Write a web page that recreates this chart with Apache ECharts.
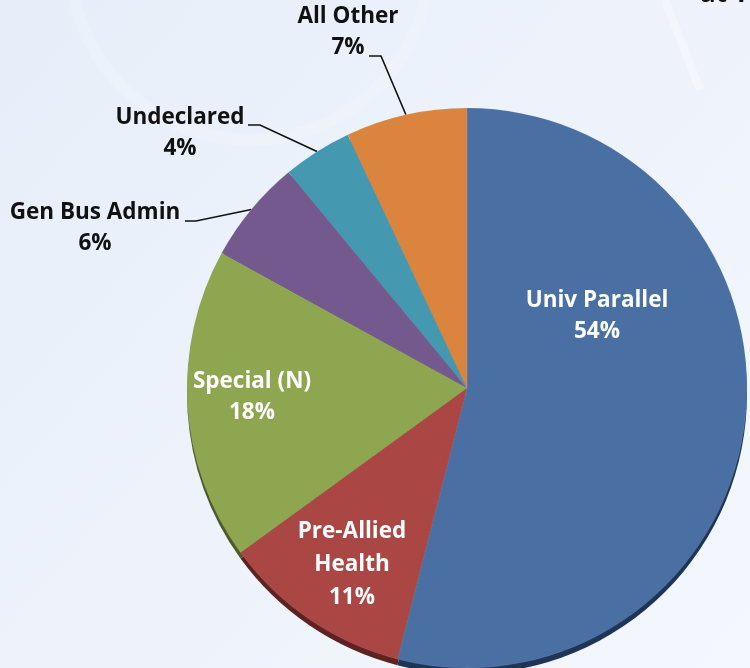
<!DOCTYPE html>
<html>
<head>
<meta charset="utf-8">
<title>Majors</title>
<script src="https://cdn.jsdelivr.net/npm/echarts@6/dist/echarts.min.js"></script>
<style>
  html, body { margin: 0; padding: 0; }
  #chart { width: 750px; height: 668px; }
</style>
</head>
<body>
<div id="chart"></div>
<script>
// 数据
const categories = ['Univ Parallel', 'Pre-Allied\nHealth', 'Special (N)', 'Gen Bus Admin', 'Undeclared', 'All Other'];
const shares = [54, 11, 18, 6, 4, 7];
const colors = ['#4a70a3', '#aa4744', '#8ea650', '#74598f', '#4499b0', '#db843d'];
const rimColors = ['#1f3557', '#5e2321', '#4d5c2a', '#3e2f4e', '#23525f', '#7a4620'];

// 标签位置（中心点），外部标签的引线拐点
const labelPos = [[597, 316], [352, 565], [252, 397], [95, 228], [180, 133], [348, 32]];
const lineEnds = [null, null, null, [[196, 221], [185, 221]], [[260, 125], [248, 125]], [[381, 56], [369, 56]]];
const inside = [true, true, true, false, false, false];

const chart = echarts.init(document.getElementById('chart'));

chart.setOption({
  backgroundColor: {
    type: 'linear', x: 0, y: 0, x2: 1, y2: 1,
    colorStops: [{ offset: 0, color: '#e7eef9' }, { offset: 1, color: '#f4f7fd' }]
  },
  graphic: [
    { type: 'circle', shape: { cx: 250, cy: -40, r: 180 }, style: { fill: 'none', stroke: 'rgba(255,255,255,0.15)', lineWidth: 12 }, silent: true },
    { type: 'line', shape: { x1: 665, y1: 0, x2: 700, y2: 90 }, style: { stroke: 'rgba(255,255,255,0.3)', lineWidth: 8 }, silent: true },
    { type: 'text', x: 700, y: -18, style: { text: 'at T', font: 'bold 26px "Open Sans"', fill: '#111' }, silent: true }
  ],
  series: [
    {
      // 底部立体边
      type: 'pie',
      silent: true,
      center: [467, 394],
      radius: 280,
      startAngle: 90,
      label: { show: false },
      labelLine: { show: false },
      data: shares.map((v, i) => ({ value: v, name: categories[i], itemStyle: { color: rimColors[i] } })),
      z: 1
    },
    {
      type: 'pie',
      center: [467, 388],
      radius: 280,
      startAngle: 90,
      itemStyle: { borderColor: 'rgba(255,255,255,0.15)', borderWidth: 0.5 },
      label: {
        show: true,
        position: 'outside',
        formatter: '{b}\n{c}%',
        fontFamily: 'Open Sans',
        fontWeight: 'bold',
        fontSize: 22.5,
        lineHeight: 31,
        align: 'center',
        color: '#111'
      },
      labelLine: { show: true, lineStyle: { color: '#111', width: 1.6 } },
      data: shares.map((v, i) => ({
        value: v,
        name: categories[i],
        itemStyle: { color: colors[i] },
        label: inside[i]
          ? { position: 'inside', color: '#fff', lineHeight: i === 1 ? 33 : 31 }
          : { position: 'outside' },
        labelLine: { show: !inside[i] }
      })),
      labelLayout: function (params) {
        const i = params.dataIndex;
        const p = labelPos[i];
        const out = { x: p[0], y: p[1], align: 'center', verticalAlign: 'middle' };
        if (!inside[i] && params.labelLinePoints) {
          out.labelLinePoints = [params.labelLinePoints[0]].concat(lineEnds[i]);
        }
        return out;
      },
      z: 2
    }
  ]
});
</script>
</body>
</html>
